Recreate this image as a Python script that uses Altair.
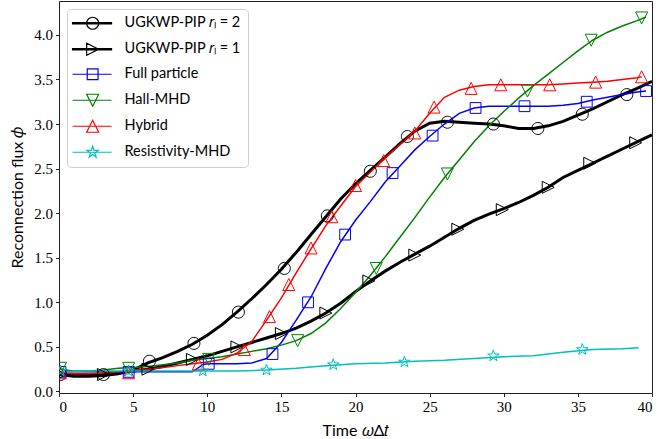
import altair as alt
import pandas as pd

# ---------------- data ----------------
names = ["UGKWP-PIP 𝑟ₗ = 2", "UGKWP-PIP 𝑟ₗ = 1", "Full particle",
         "Hall-MHD", "Hybrid", "Resistivity-MHD"]
colors = ["#000000", "#000000", "#0000ff", "#008000", "#ff0000", "#00bfbf"]
widths = [3.0, 3.0, 1.5, 1.5, 1.5, 1.5]

t_int = list(range(41))

rl2_t = t_int
rl2_y = [0.19, 0.17, 0.17, 0.18, 0.20, 0.24, 0.32, 0.38, 0.45, 0.53, 0.63, 0.75, 0.89,
         1.04, 1.20, 1.37, 1.56, 1.76, 1.96, 2.16, 2.33, 2.48, 2.63, 2.78, 2.92, 3.01,
         3.03, 3.02, 3.01, 3.00, 2.98, 2.95, 2.95, 2.98, 3.03, 3.10, 3.17, 3.25, 3.33,
         3.40, 3.48]
rl2_mt = [0.1, 3.0, 6.1, 9.1, 12.1, 15.2, 18.1, 21.0, 23.5, 26.2, 29.3, 32.3, 35.3, 38.3]
rl2_my = [0.19, 0.19, 0.34, 0.54, 0.89, 1.38, 1.97, 2.47, 2.86, 3.02, 3.00, 2.95, 3.11, 3.33]

rl1_t = t_int
rl1_y = [0.20, 0.18, 0.18, 0.19, 0.21, 0.23, 0.25, 0.28, 0.32, 0.36, 0.40, 0.45, 0.50,
         0.55, 0.60, 0.65, 0.71, 0.79, 0.88, 0.99, 1.12, 1.24, 1.35, 1.45, 1.54, 1.63,
         1.73, 1.83, 1.92, 1.99, 2.05, 2.12, 2.20, 2.29, 2.40, 2.48, 2.56, 2.64, 2.72,
         2.80, 2.88]
rl1_mt = [0.1, 3.0, 6.0, 9.0, 12.0, 15.0, 18.0, 20.9, 24.0, 26.9, 29.9, 33.0, 35.8, 38.9]
rl1_my = [0.19, 0.19, 0.25, 0.36, 0.50, 0.65, 0.88, 1.24, 1.53, 1.82, 2.04, 2.29, 2.56, 2.79]

fp_t = [0, 1, 2, 3, 4, 5, 6, 7, 8, 9, 9.7, 10, 11, 12, 13, 14, 15, 16, 17, 18, 19, 20,
        21, 22, 23, 24, 25, 26, 27, 28, 29, 30, 31, 32, 33, 34, 35, 36, 37, 38, 39, 39.6]
fp_y = [0.22, 0.22, 0.22, 0.22, 0.22, 0.22, 0.22, 0.22, 0.22, 0.22, 0.30, 0.31, 0.31,
        0.31, 0.32, 0.37, 0.55, 0.80, 1.06, 1.38, 1.68, 1.92, 2.13, 2.35, 2.53, 2.71,
        2.86, 3.00, 3.12, 3.18, 3.20, 3.20, 3.20, 3.20, 3.20, 3.21, 3.23, 3.27, 3.30,
        3.33, 3.36, 3.37]
fp_mt = [0.1, 4.7, 10.1, 14.4, 16.8, 19.3, 22.5, 25.2, 28.1, 31.4, 35.6, 39.6]
fp_my = [0.22, 0.22, 0.31, 0.42, 1.00, 1.76, 2.45, 2.87, 3.18, 3.20, 3.25, 3.37]

hall_t = t_int[:40] + [39.6]
hall_y = [0.25, 0.23, 0.23, 0.24, 0.26, 0.27, 0.28, 0.30, 0.32, 0.35, 0.37, 0.39, 0.42,
          0.45, 0.48, 0.52, 0.57, 0.65, 0.77, 0.93, 1.11, 1.30, 1.51, 1.73, 1.95, 2.18,
          2.40, 2.60, 2.80, 2.98, 3.14, 3.29, 3.43, 3.56, 3.69, 3.82, 3.94, 4.03, 4.10,
          4.16, 4.20]
hall_mt = [0.1, 4.7, 10.1, 16.1, 21.4, 26.2, 31.6, 35.9, 39.3]
hall_my = [0.26, 0.26, 0.36, 0.57, 1.38, 2.44, 3.37, 3.94, 4.19]

hyb_t = t_int[:40] + [39.3]
hyb_y = [0.21, 0.20, 0.20, 0.21, 0.22, 0.24, 0.25, 0.27, 0.29, 0.31, 0.33, 0.36, 0.43,
         0.56, 0.80, 1.05, 1.33, 1.60, 1.86, 2.08, 2.30, 2.46, 2.62, 2.77, 2.92, 3.12,
         3.30, 3.38, 3.42, 3.44, 3.44, 3.44, 3.44, 3.44, 3.45, 3.46, 3.47, 3.48, 3.50,
         3.52, 3.53]
hyb_mt = [0.1, 4.7, 9.4, 12.5, 14.2, 15.5, 17.0, 18.4, 20.0, 21.9, 24.0, 25.3, 27.8,
          29.8, 33.1, 36.2, 39.3]
hyb_my = [0.21, 0.21, 0.31, 0.47, 0.84, 1.20, 1.61, 1.96, 2.31, 2.59, 2.90, 3.19, 3.40,
          3.44, 3.44, 3.47, 3.53]

res_t = [0, 2, 4, 6, 8, 10, 12, 14, 16, 18, 20, 22, 24, 26, 28, 30, 32, 34, 36, 38, 39.1]
res_y = [0.22, 0.23, 0.23, 0.23, 0.23, 0.23, 0.23, 0.24, 0.26, 0.29, 0.31, 0.32, 0.34,
         0.35, 0.37, 0.39, 0.40, 0.44, 0.47, 0.48, 0.49]
res_mt = [0.1, 4.7, 9.7, 14.0, 18.5, 23.3, 29.3, 35.3]
res_my = [0.23, 0.23, 0.23, 0.24, 0.30, 0.33, 0.40, 0.47]

x_ticks = [0, 5, 10, 15, 20, 25, 30, 35, 40]
y_ticks = [0.0, 0.5, 1.0, 1.5, 2.0, 2.5, 3.0, 3.5, 4.0]

# ---------------- tables ----------------
line_sets = [(rl2_t, rl2_y), (rl1_t, rl1_y), (fp_t, fp_y),
             (hall_t, hall_y), (hyb_t, hyb_y), (res_t, res_y)]
mark_sets = [(rl2_mt, rl2_my), (rl1_mt, rl1_my), (fp_mt, fp_my),
             (hall_mt, hall_my), (hyb_mt, hyb_my), (res_mt, res_my)]

df_leg = pd.DataFrame({"t": [-50.0] * len(names), "y": [0.1] * len(names), "series": names})


# ---------------- marker shapes ----------------
def poly(pts, dx=0.0):
    return "M" + " L".join(f"{x + dx:.3f},{y:.3f}" for x, y in pts) + " Z"


def circle(dx=0.0):
    return (f"M{1 + dx:.3f},0 A1,1 0 1,1 {-1 + dx:.3f},0 "
            f"A1,1 0 1,1 {1 + dx:.3f},0 Z")


star_pts = [(0, -1), (0.2245, -0.309), (0.951, -0.309), (0.363, 0.118), (0.588, 0.809),
            (0, 0.382), (-0.588, 0.809), (-0.363, 0.118), (-0.951, -0.309),
            (-0.2245, -0.309)]
tri_right = [(1, 0), (-1, -1), (-1, 1)]
square = [(-0.9, -0.9), (0.9, -0.9), (0.9, 0.9), (-0.9, 0.9)]
tri_down = [(0, 1), (1, -1), (-1, -1)]
tri_up = [(0, -1), (1, 1), (-1, 1)]


def marker(i, dx=0.0):
    if i == 0:
        return circle(dx)
    return poly([tri_right, square, tri_down, tri_up, star_pts][i - 1], dx)


L0, L1, MX = -1.45, 5.05, 1.9
thick = f"M{L0},-0.1 L{L1},-0.1 L{L1},0.1 L{L0},0.1 Z"
thin = f"M{L0},0 L{L1},0"
legend_paths = [(thick if widths[i] > 2 else thin) + " " + marker(i, MX) for i in range(6)]

# ---------------- chart ----------------
xs = alt.Scale(domain=[0, 40], nice=False, zero=False)
ys = alt.Scale(domain=[-0.017, 4.38], nice=False, zero=False)
cs = alt.Scale(domain=names, range=colors)

SERIF = "Liberation Serif, serif"
AX = dict(labelFont=SERIF, labelFontSize=15, labelColor="black",
          titleFont="Lato", titleFontSize=16, titleFontWeight="normal", titleColor="black",
          tickColor="#222222", tickSize=3.5, tickWidth=1, grid=False, domain=False)
X = alt.X("t:Q", scale=xs, axis=alt.Axis(values=x_ticks, format="d", title="Time 𝜔Δ𝑡",
                                         labelPadding=3, titlePadding=8, **AX))
Y = alt.Y("y:Q", scale=ys, axis=alt.Axis(values=y_ticks, format=".1f",
                                          title="Reconnection flux 𝜙",
                                          labelPadding=3, titlePadding=8, **AX))

layers = []
for i, (ts, vs) in enumerate(line_sets):
    d = pd.DataFrame({"t": ts, "y": vs})
    layers.append(alt.Chart(d).mark_line(clip=True, strokeWidth=widths[i],
                                         color=colors[i]).encode(x=X, y=Y, order="t:Q"))

for i, (ts, vs) in enumerate(mark_sets):
    d = pd.DataFrame({"t": ts, "y": vs})
    layers.append(alt.Chart(d).mark_point(
        filled=False, size=144, strokeWidth=1.0, opacity=1, clip=True,
        shape=marker(i), color=colors[i]).encode(x=X, y=Y))

leg = alt.Legend(title=None, orient="top-left", offset=8, padding=7,
                 labelFont="Lato", labelFontSize=14.5, labelColor="black",
                 labelOffset=36, rowPadding=8, symbolSize=144,
                 symbolStrokeWidth=1.2, symbolOpacity=1,
                 fillColor="white", strokeColor="#cccccc", cornerRadius=4)

layers.append(alt.Chart(df_leg).mark_point(filled=False, size=144, strokeWidth=1.2,
                                           opacity=1, clip=True).encode(
    x=X, y=Y,
    color=alt.Color("series:N", scale=cs, legend=leg),
    shape=alt.Shape("series:N", scale=alt.Scale(domain=names, range=legend_paths),
                    legend=leg),
))

chart = alt.layer(*layers).properties(
    width=593, height=392,
    padding={"left": 59, "top": 1, "right": 7, "bottom": 46},
    autosize=alt.AutoSizeParams(type="none"),
).configure_view(
    stroke="#222222", strokeWidth=1
)

chart.save("out.html", embed_options={"renderer": "svg", "actions": False})
